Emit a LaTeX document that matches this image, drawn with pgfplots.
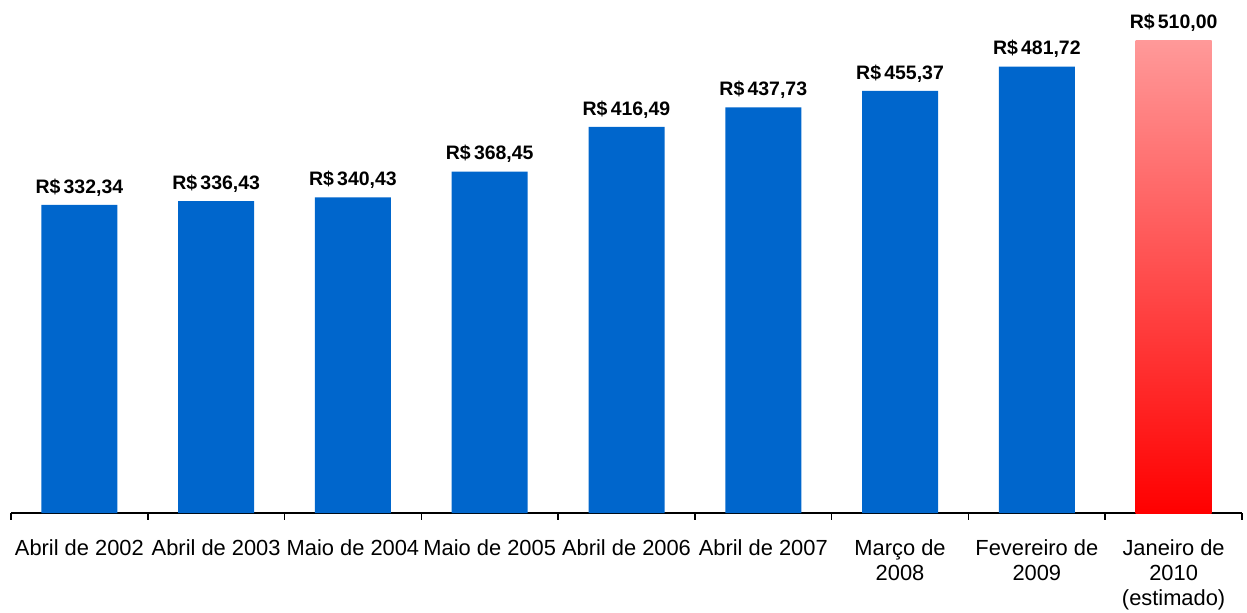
\documentclass[border=0pt]{standalone}
\usepackage{pgfplots}
\pgfplotsset{compat=1.18}
\usepackage{fontspec}
\setmainfont{Liberation Sans}
\definecolor{barblue}{RGB}{0,102,204}
\definecolor{toppink}{RGB}{255,153,153}
\definecolor{botred}{RGB}{255,0,0}
\begin{document}
\begin{tikzpicture}
\begin{axis}[
  at={(0,0)}, anchor=south west,
  scale only axis,
  width=923.25pt, height=384.75pt,
  xmin=-0.5, xmax=8.5, ymin=0, ymax=553.5,
  axis x line*=bottom, axis y line=none,
  axis line style={line width=1.3pt, -},
  xtick={0,...,8},
  xticklabels={Abril de 2002, Abril de 2003, Maio de 2004, Maio de 2005, Abril de 2006, Abril de 2007, Março de\\2008, Fevereiro de\\2009, Janeiro de\\2010\\(estimado)},
  xticklabel style={align=center, font=\fontsize{16.4}{18.6}\selectfont, anchor=north, yshift=-16.5pt},
  major tick length=0pt,
  minor xtick={-0.5,0.5,...,8.5},
  minor tick length=5pt,
  tick align=outside,
  minor tick style={line width=1.1pt, black},
  ybar, bar width=57pt, bar shift=0pt,
  nodes near coords={R\$\,\pgfmathprintnumber{\pgfplotspointmeta}},
  nodes near coords style={font=\fontsize{14.6}{17}\selectfont\bfseries, anchor=south, yshift=3pt, /pgf/number format/.cd, fixed, fixed zerofill, precision=2, use comma, assume math mode=true},
  clip=false,
]
\addplot[fill=barblue, draw=none] coordinates {
  (0,332.34) (1,336.43) (2,340.43) (3,368.45) (4,416.49) (5,437.73) (6,455.37) (7,481.72)
};
\addplot[top color=toppink, bottom color=botred, draw=none] coordinates {
  (8,510.00)
};
\end{axis}
\pgfresetboundingbox
\useasboundingbox (-8.25pt,-74.25pt) rectangle (927pt,384.75pt);
\end{tikzpicture}
\end{document}
